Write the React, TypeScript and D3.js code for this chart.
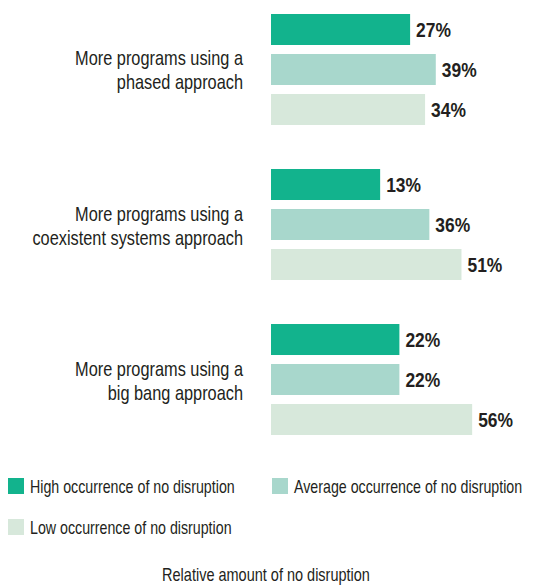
import React from "react";
import * as d3 from "d3";

const categories = ["phased", "coexistent", "bigbang"];
const categoryLines = [
  ["More programs using a", "phased approach"],
  ["More programs using a", "coexistent systems approach"],
  ["More programs using a", "big bang approach"],
];
const seriesNames = [
  "High occurrence of no disruption",
  "Average occurrence of no disruption",
  "Low occurrence of no disruption",
];
const highValues = [27, 13, 22];
const averageValues = [39, 36, 22];
const lowValues = [34, 51, 56];
const colors = ["#12b38d", "#a8d7cc", "#d7e8db"];
const axisTitle = "Relative amount of no disruption";

const W = 535;
const H = 588;
const FONT = "'Liberation Sans', Arial, sans-serif";
const TEXT = "#231f20";

function NarrowText({
  x,
  y,
  sx,
  anchor = "start",
  size,
  weight = "normal",
  children,
}: {
  x: number;
  y: number;
  sx: number;
  anchor?: string;
  size: number;
  weight?: string;
  children: React.ReactNode;
}) {
  return (
    <g transform={`translate(${x},${y}) scale(${sx},1)`}>
      <text x={0} y={0} textAnchor={anchor} fontSize={size} fontWeight={weight} fill={TEXT}>
        {children}
      </text>
    </g>
  );
}

export default function App() {
  const series = [highValues, averageValues, lowValues];
  const x = d3.scaleLinear().domain([-38, 60]).range([271, 271 + 98 * 2.14]);
  const y0 = d3.scaleBand<string>().domain(categories).range([14, 435]).paddingInner(0.284).paddingOuter(0);
  const y1 = d3
    .scaleBand<string>()
    .domain(seriesNames)
    .range([0, y0.bandwidth()])
    .paddingInner(0.225)
    .paddingOuter(0);

  const legendItems = [
    { name: seriesNames[0], color: colors[0], x: 8, y: 478 },
    { name: seriesNames[1], color: colors[1], x: 272, y: 478 },
    { name: seriesNames[2], color: colors[2], x: 8, y: 519 },
  ];

  return (
    <svg
      width={W}
      height={H}
      style={{ position: "absolute", left: 0, top: 0, background: "#fff" }}
      fontFamily={FONT}
    >
      {categories.map((c, ci) => {
        const gy = y0(c)!;
        const center = gy + y0.bandwidth() / 2;
        return (
          <g key={c}>
            <NarrowText x={243} y={center - 4} sx={0.817} anchor="end" size={20}>
              {categoryLines[ci][0]}
            </NarrowText>
            <NarrowText x={243} y={center + 20} sx={0.817} anchor="end" size={20}>
              {categoryLines[ci][1]}
            </NarrowText>
            {seriesNames.map((s, si) => {
              const v = series[si][ci];
              const by = gy + y1(s)!;
              return (
                <g key={s}>
                  <rect
                    x={x(-38)}
                    y={by}
                    width={x(v) - x(-38)}
                    height={y1.bandwidth()}
                    fill={colors[si]}
                  />
                  <NarrowText
                    x={x(v) + 6}
                    y={by + y1.bandwidth() / 2 + 7.5}
                    sx={0.83}
                    size={21}
                    weight="bold"
                  >
                    {v}%
                  </NarrowText>
                </g>
              );
            })}
          </g>
        );
      })}
      {legendItems.map((l) => (
        <g key={l.name}>
          <rect x={l.x} y={l.y} width={16} height={16} fill={l.color} />
          <NarrowText x={l.x + 22} y={l.y + 14.5} sx={0.79} size={18}>
            {l.name}
          </NarrowText>
        </g>
      ))}
      <NarrowText x={266} y={581} sx={0.806} anchor="middle" size={18}>
        {axisTitle}
      </NarrowText>
    </svg>
  );
}
